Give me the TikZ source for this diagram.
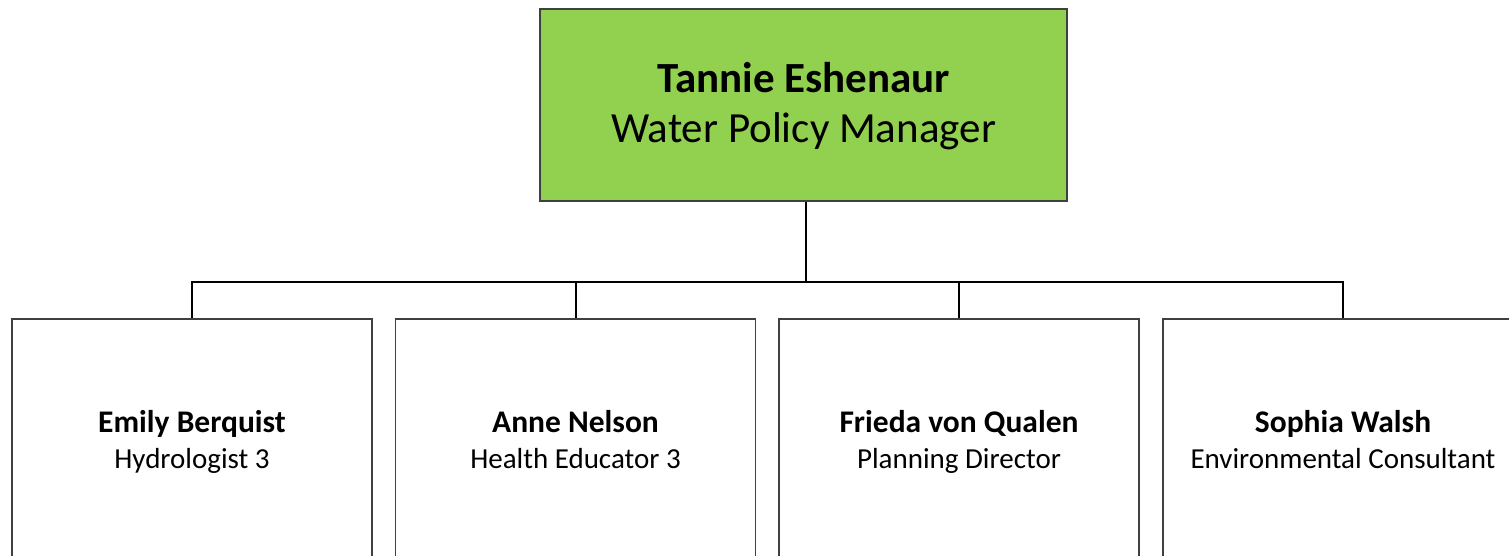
\documentclass[tikz,border=0pt]{standalone}
\usepackage{fontspec}
\setmainfont{Carlito}
\definecolor{topgreen}{HTML}{92D050}
\definecolor{edgegray}{HTML}{404040}
\newcommand{\staffname}[1]{{\fontsize{31.5}{36}\selectfont\strut\textbf{#1}}}
\newcommand{\staffrole}[1]{\strut #1}
\begin{document}
\begin{tikzpicture}[x=1pt,y=-1pt,
  boss/.style={draw=edgegray,line width=1.5pt,fill=topgreen,minimum width=527pt,minimum height=192pt,inner sep=0pt},
  bosstext/.style={inner sep=0pt,align=center,font=\fontsize{43}{50}\selectfont},
  staff/.style={draw=edgegray,line width=1.3pt,fill=white,minimum width=360pt,minimum height=242pt,inner sep=0pt},
  stafftext/.style={inner sep=0pt,align=center,font=\fontsize{29}{36}\selectfont},
  link/.style={draw=black,line width=2pt}]
\useasboundingbox (0,0) rectangle (1509,556);
\clip (0,0) rectangle (1509,556);
\node[boss] (top) at (803.5,105) {};
\node[bosstext] (toptext) at ([yshift=-3pt]top.center) {\strut\textbf{Tannie Eshenaur}\\\strut Water Policy Manager};
\node[staff] (s1) at (192,440) {};
\node[staff] (s2) at (575.5,440) {};
\node[staff] (s3) at (959,440) {};
\node[staff] (s4) at (1343,440) {};
\node[stafftext] (t1) at ([yshift=-3pt]s1.center) {\staffname{Emily Berquist}\\\staffrole{Hydrologist 3}};
\node[stafftext] (t2) at ([yshift=-3pt]s2.center) {\staffname{Anne Nelson}\\\staffrole{Health Educator 3}};
\node[stafftext] (t3) at ([yshift=-3pt]s3.center) {\staffname{Frieda von Qualen}\\\staffrole{Planning Director}};
\node[stafftext] (t4) at ([yshift=-3pt]s4.center) {\staffname{Sophia Walsh}\\\staffrole{Environmental Consultant}};
\coordinate (bus) at (806,282);
\draw[link] (top.south -| bus) -- (bus);
\draw[link] (s1.north) -- (s1.north |- bus) -- (s4.north |- bus) -- (s4.north);
\draw[link] (s2.north) -- (s2.north |- bus);
\draw[link] (s3.north) -- (s3.north |- bus);
\end{tikzpicture}
\end{document}
